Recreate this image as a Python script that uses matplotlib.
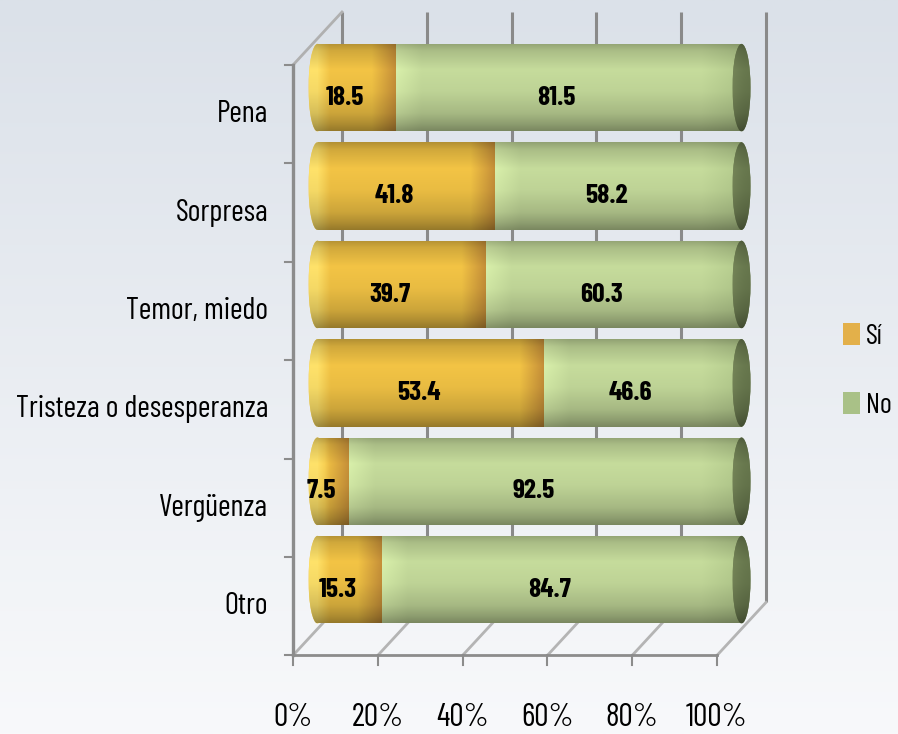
import numpy as np
import matplotlib.pyplot as plt
from matplotlib.colors import to_rgb
from matplotlib.patches import Ellipse

plt.rcParams["font.family"] = ["Barlow Condensed", "Roboto Condensed", "DejaVu Sans"]

categories = ["Pena", "Sorpresa", "Temor, miedo", "Tristeza o desesperanza", "Vergüenza", "Otro"]
si = [18.5, 41.8, 39.7, 53.4, 7.5, 15.3]
no = [81.5, 58.2, 60.3, 46.6, 92.5, 84.7]
pct_ticks = [0, 20, 40, 60, 80, 100]
pct_labels = ["0%", "20%", "40%", "60%", "80%", "100%"]

W, H = 898, 734
PX = 4.24          # pixels per percent
X0 = 317.5         # pixel of 0 % at bar depth
ROW = 98.4         # pixels per category
Y0 = 87.7          # pixel of first bar centre
DX = 49 / PX / 2   # half depth offset (x)
DY = 53 / ROW / 2  # half depth offset (y)
CAPW = 9 / PX      # half width of the cylinder end caps
BAR_H = 0.89

fig = plt.figure(figsize=(W / 100, H / 100), dpi=100)
renderer = fig.canvas.get_renderer()


def fit_size(text, target_px, weight="normal"):
    # font size that makes `text` target_px wide
    t = fig.text(0, 0, text, fontsize=20, fontweight=weight)
    w = t.get_window_extent(renderer=renderer).width
    t.remove()
    return 20 * target_px / w


cat_fs = fit_size("Tristeza o desesperanza", 253)
pct_fs = fit_size("100%", 62)
val_fs = fit_size("18.5", 38, "bold")
leg_fs = fit_size("No", 26)

# soft background gradient
bg = fig.add_axes([0, 0, 1, 1], zorder=-10)
top, bot = np.array(to_rgb("#dbe1e9")), np.array(to_rgb("#f8f9fb"))
t = np.linspace(0, 1, 256)[:, None, None]
bg.imshow(top * (1 - t) + bot * t, aspect="auto", extent=[0, 1, 0, 1])
bg.axis("off")

ax = fig.add_axes([0, 0, 1, 1])
ax.patch.set_alpha(0)
ax.axis("off")

# vertical shading profile of a cylinder, top -> bottom
prof_t = [0.0, 0.08, 0.3, 0.55, 0.8, 0.92, 1.0]
prof_v = [0.74, 0.86, 1.0, 0.96, 0.84, 0.72, 0.62]


def shade_image(x0, x1, left_col, mid_col, right_col, fade_l=12, fade_r=25, nx=200, ny=80):
    xs = np.linspace(x0, x1, nx) * PX
    xs = xs - xs[0]
    span = xs[-1] if xs[-1] > 0 else 1
    a = np.clip(1 - xs / fade_l, 0, 1)[None, :, None]
    b = np.clip(1 - (span - xs) / fade_r, 0, 1)[None, :, None]
    base = np.array(to_rgb(mid_col))[None, None, :]
    col = base * (1 - a) + np.array(to_rgb(left_col)) * a
    col = col * (1 - b) + np.array(to_rgb(right_col)) * b
    v = np.interp(np.linspace(0, 1, ny), prof_t, prof_v)[:, None, None]
    return np.clip(col * v, 0, 1)


def paint(patch, img, x0, x1, y, z):
    im = ax.imshow(img, extent=[x0, x1, y + BAR_H / 2, y - BAR_H / 2],
                   aspect="auto", zorder=z, interpolation="bilinear")
    im.set_clip_path(patch)


ys = np.arange(len(categories))

# back wall gridlines
for p in pct_ticks:
    ax.plot([p + DX, p + DX], [-0.5 - DY, 5.5 - DY], color="#8a8a8a", lw=2.2,
            zorder=1, solid_capstyle="butt")

# floor depth lines and left wall top edge
for p in pct_ticks:
    ax.plot([p - DX, p + DX], [5.5 + DY, 5.5 - DY], color="#b4b4b4", lw=2, zorder=1)
ax.plot([-DX, DX], [-0.5 + DY, -0.5 - DY], color="#b0b0b0", lw=2, zorder=1)

# front axis lines with tick marks
ax.plot([-DX, -DX], [-0.5 + DY, 5.5 + DY], color="#8c8c8c", lw=2.4, zorder=2)
ax.plot([-DX, 100 - DX], [5.5 + DY, 5.5 + DY], color="#8c8c8c", lw=2, zorder=2)
for k in range(len(categories) + 1):
    ax.plot([-DX - 8 / PX, -DX], [k - 0.5 + DY] * 2, color="#8c8c8c", lw=1.5, zorder=2)
for p in pct_ticks:
    ax.plot([p - DX, p - DX], [5.5 + DY, 5.5 + DY + 10 / ROW], color="#8c8c8c", lw=1.5, zorder=2)

bars_si = ax.barh(ys, si, height=BAR_H, color="#e3b04a", zorder=3, label="Sí")
bars_no = ax.barh(ys, no, left=si, height=BAR_H, color="#a9c187", zorder=3, label="No")

for y, s, n, ps, pn in zip(ys, si, no, bars_si, bars_no):
    # far (left) end of the cylinder
    cap_l = Ellipse((0, y), 2 * CAPW, BAR_H, facecolor="#f7cf55", edgecolor="none", zorder=2.9)
    ax.add_patch(cap_l)
    paint(cap_l, shade_image(-CAPW, CAPW, "#ffe26a", "#ffe26a", "#ffe26a", nx=20),
          -CAPW, CAPW, y, 2.95)
    paint(ps, shade_image(0, s, "#ffe066", "#f3c445", "#c48d38"), 0, s, y, 3.1)
    paint(pn, shade_image(s, s + n, "#d8efaa", "#c6dc9c", "#b4cb8d", fade_l=25, fade_r=40),
          s, s + n, y, 3.1)
    # visible right end cap
    cap_r = Ellipse((s + n, y), 2 * CAPW, BAR_H, facecolor="#6e7e52", edgecolor="none", zorder=3.3)
    ax.add_patch(cap_r)
    paint(cap_r, shade_image(s + n - CAPW, s + n + CAPW, "#7a8a5c", "#718256", "#66764c", nx=20),
          s + n - CAPW, s + n + CAPW, y, 3.35)

    # value labels
    for left, val in ((0, s), (s, n)):
        ax.text(left + val / 2 - 12 / PX, y + 10 / ROW, f"{val:.1f}", ha="center", va="center",
                fontsize=val_fs, fontweight="bold", color="black", zorder=5)

for y, name in zip(ys, categories):
    ax.text(-DX - 25 / PX, y + DY, name, ha="right", va="center", fontsize=cat_fs, color="black")

for p, lab in zip(pct_ticks, pct_labels):
    ax.text(p - DX, (718 - Y0) / ROW, lab, ha="center", va="center", fontsize=pct_fs, color="black")

ax.set_xlim(-X0 / PX, (W - X0) / PX)
ax.set_ylim((H - Y0) / ROW, -Y0 / ROW)

leg_px = leg_fs * 100 / 72
fig.legend(handles=[bars_si, bars_no], labels=["Sí", "No"], loc="center left",
           bbox_to_anchor=(843 / W, 1 - 371 / H), frameon=False, fontsize=leg_fs,
           handlelength=17 / leg_px, handleheight=23 / leg_px, handletextpad=6 / leg_px,
           labelspacing=(70 - leg_px) / leg_px, borderpad=0, borderaxespad=0)

fig.savefig("out.png", dpi=100)
